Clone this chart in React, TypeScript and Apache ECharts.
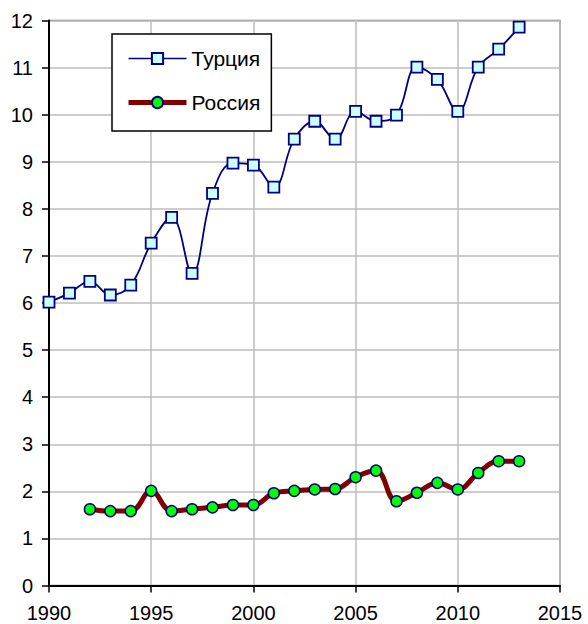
import React, { useEffect, useRef } from "react";
import * as echarts from "echarts";

const turkeyYears = [1990, 1991, 1992, 1993, 1994, 1995, 1996, 1997, 1998, 1999, 2000, 2001, 2002, 2003, 2004, 2005, 2006, 2007, 2008, 2009, 2010, 2011, 2012, 2013];
const turkeyValues = [6.02, 6.21, 6.46, 6.17, 6.38, 7.27, 7.82, 6.63, 8.33, 8.97, 8.93, 8.46, 9.48, 9.86, 9.48, 10.07, 9.86, 9.99, 11.01, 10.75, 10.07, 11.01, 11.39, 11.86];

const russiaYears = [1992, 1993, 1994, 1995, 1996, 1997, 1998, 1999, 2000, 2001, 2002, 2003, 2004, 2005, 2006, 2007, 2008, 2009, 2010, 2011, 2012, 2013];
const russiaValues = [1.62, 1.58, 1.58, 2.01, 1.58, 1.62, 1.66, 1.71, 1.71, 1.96, 2.01, 2.04, 2.05, 2.30, 2.44, 1.79, 1.97, 2.18, 2.04, 2.39, 2.64, 2.64];

const seriesNames = ["Турция", "Россия"];

const FONT = "'Liberation Sans', Arial, sans-serif";

export default function App() {
  const ref = useRef<HTMLDivElement>(null);

  useEffect(() => {
    if (!ref.current) return;
    const chart = echarts.init(ref.current, null, { renderer: "svg" });
    const turkeyData = turkeyYears.map((y, i) => [y, turkeyValues[i]]);
    const russiaData = russiaYears.map((y, i) => [y, russiaValues[i]]);
    chart.setOption({
      animation: false,
      backgroundColor: "#ffffff",
      textStyle: { fontFamily: FONT },
      grid: {
        left: 49,
        top: 20.5,
        width: 511,
        height: 565,
        show: true,
        borderColor: "#808080",
        borderWidth: 1.5,
        backgroundColor: "transparent",
      },
      legend: {
        orient: "vertical",
        left: 112,
        top: 34,
        data: [
          { name: seriesNames[0], lineStyle: { width: 1.5 } },
          { name: seriesNames[1], lineStyle: { width: 5 } },
        ],
        backgroundColor: "#ffffff",
        borderColor: "#000000",
        borderWidth: 1.5,
        borderRadius: 0,
        padding: [14, 11, 18, 14],
        itemWidth: 58,
        itemHeight: 14,
        itemGap: 23,
        textStyle: { fontFamily: FONT, fontSize: 21, color: "#000000" },
      },
      xAxis: {
        type: "value",
        min: 1990,
        max: 2015,
        interval: 5,
        axisLine: { show: true, onZero: false, lineStyle: { color: "#000000", width: 2 } },
        axisTick: { show: true, length: 7, lineStyle: { color: "#000000", width: 1.5 } },
        axisLabel: {
          fontFamily: FONT,
          fontSize: 20,
          color: "#000000",
          margin: 17,
          formatter: (v: number) => String(v),
        },
        splitLine: { show: true, lineStyle: { color: "#bdbdbd", width: 1.5 } },
      },
      yAxis: {
        type: "value",
        min: 0,
        max: 12,
        interval: 1,
        axisLine: { show: true, lineStyle: { color: "#000000", width: 2 } },
        axisTick: { show: true, length: 7, lineStyle: { color: "#000000", width: 1.5 } },
        axisLabel: { fontFamily: FONT, fontSize: 20, color: "#000000", margin: 16 },
        splitLine: { show: true, lineStyle: { color: "#bdbdbd", width: 1.5 } },
      },
      series: [
        {
          name: seriesNames[0],
          type: "line",
          data: turkeyData,
          smooth: 0.4,
          symbol: "rect",
          symbolSize: 11,
          lineStyle: { color: "#000080", width: 1.8 },
          itemStyle: { color: "#ccffff", borderColor: "#000080", borderWidth: 1.8 },
          z: 3,
        },
        {
          name: seriesNames[1],
          type: "line",
          data: russiaData,
          smooth: 0.4,
          symbol: "circle",
          symbolSize: 11,
          lineStyle: { color: "#800000", width: 5 },
          itemStyle: { color: "#00ff00", borderColor: "#000080", borderWidth: 1.5 },
          z: 3,
        },
      ],
    });
    return () => chart.dispose();
  }, []);

  return (
    <div
      ref={ref}
      style={{ position: "fixed", left: 0, top: 0, width: 588, height: 624, background: "#ffffff" }}
    />
  );
}
